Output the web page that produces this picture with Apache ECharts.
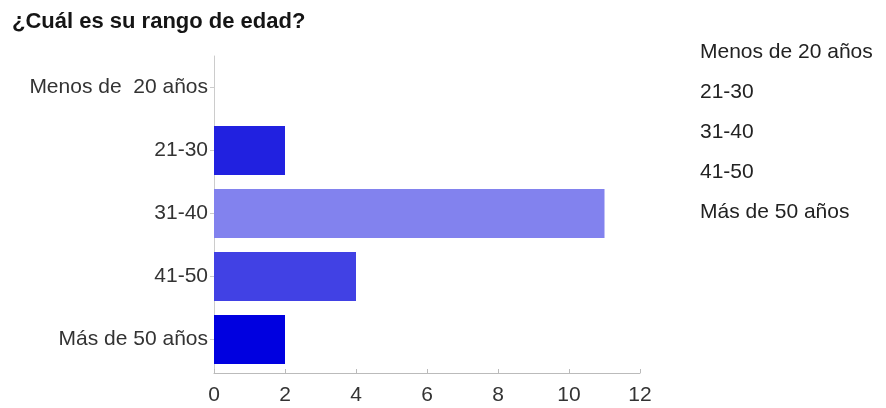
<!DOCTYPE html>
<html>
<head>
<meta charset="utf-8">
<script src="https://cdn.jsdelivr.net/npm/echarts@6/dist/echarts.min.js"></script>
<style>
  html, body { margin: 0; padding: 0; background: #fff; }
  #chart { width: 886px; height: 408px; }
</style>
</head>
<body>
<div id="chart"></div>
<script>
// Age-range survey answers
const titleText = '¿Cuál es su rango de edad?';
const axisCategories = ['Menos de  20 años', '21-30', '31-40', '41-50', 'Más de 50 años'];
const legendNames = ['Menos de 20 años', '21-30', '31-40', '41-50', 'Más de 50 años'];
const counts = [0, 2, 11, 4, 2];
const barColors = ['#1010d8', '#2121e0', '#8282ee', '#4141e4', '#0000e0'];
const xTicks = { min: 0, max: 12, interval: 2 };

const font = 'Liberation Sans, Arial, sans-serif';

// One stacked series per category so each bar gets its own legend entry
const series = legendNames.map((name, i) => ({
  name: name,
  type: 'bar',
  stack: 'total',
  barCategoryGap: '22%',
  itemStyle: { color: barColors[i] },
  data: counts.map((v, j) => (j === i ? v : '-'))
}));

const chart = echarts.init(document.getElementById('chart'), null, { renderer: 'canvas' });
chart.setOption({
  animation: false,
  title: {
    text: titleText,
    left: 7,
    top: 11,
    padding: [0, 5],
    textStyle: { fontFamily: font, fontSize: 22, fontWeight: 'bold', color: '#151515' }
  },
  legend: {
    orient: 'vertical',
    left: 700,
    top: 42,
    icon: 'none',
    itemWidth: 0,
    itemHeight: 21,
    itemGap: 19,
    padding: 0,
    selectedMode: false,
    data: legendNames,
    textStyle: { fontFamily: font, fontSize: 21, color: '#222', padding: [0, 0, 0, -5] }
  },
  grid: { left: 214, right: 246, top: 56, bottom: 37, containLabel: false },
  xAxis: {
    type: 'value',
    min: xTicks.min,
    max: xTicks.max,
    interval: xTicks.interval,
    offset: 2,
    splitLine: { show: false },
    axisLine: { show: true, lineStyle: { color: '#bbbbbb', width: 1 } },
    axisTick: { show: true, inside: true, length: 4, lineStyle: { color: '#bbbbbb' } },
    axisLabel: { margin: 12, fontFamily: font, fontSize: 21, color: '#333' }
  },
  yAxis: {
    type: 'category',
    inverse: true,
    data: axisCategories,
    axisLine: { show: true, lineStyle: { color: '#cccccc', width: 1 } },
    axisTick: { show: true, alignWithLabel: true, length: 4, lineStyle: { color: '#cccccc' } },
    axisLabel: { margin: 6, fontFamily: font, fontSize: 21, color: '#333' }
  },
  series: series
});
</script>
</body>
</html>
